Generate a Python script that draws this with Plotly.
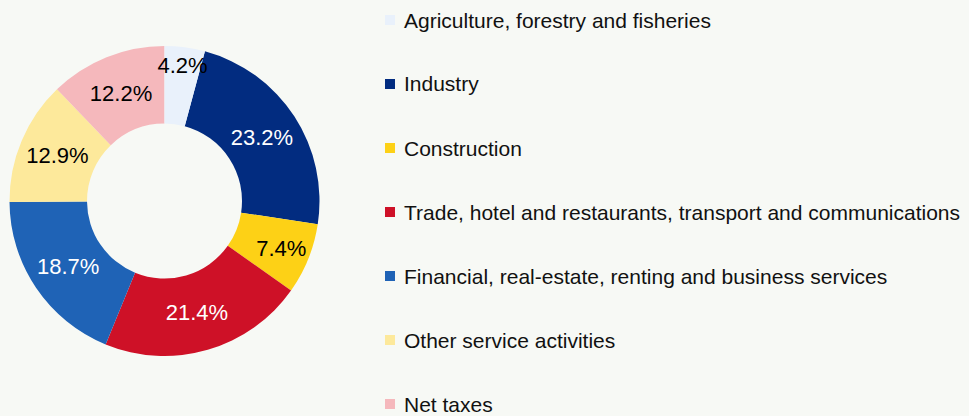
import plotly.graph_objects as go

sectors = [
    "Agriculture, forestry and fisheries",
    "Industry",
    "Construction",
    "Trade, hotel and restaurants, transport and communications",
    "Financial, real-estate, renting and business services",
    "Other service activities",
    "Net taxes",
]
shares = [4.2, 23.2, 7.4, 21.4, 18.7, 12.9, 12.2]
colors = ["#e9f1fb", "#022c80", "#fdd116", "#ce1127", "#1f63b6", "#fde99b", "#f5b8bc"]
label_colors = ["black", "white", "black", "white", "white", "black", "black"]

bg = "#f7f9f5"
W, H = 969, 416

# plotly draws slices in order; put the small first slice last so its label
# sits on top of the neighbours, and rotate so it still starts at 12 o'clock
order = list(range(1, len(sectors))) + [0]

fig = go.Figure()

fig.add_trace(go.Pie(
    labels=[sectors[i] for i in order],
    values=[shares[i] for i in order],
    sort=False,
    direction="clockwise",
    rotation=shares[0] / sum(shares) * 360,
    hole=0.5,
    marker=dict(colors=[colors[i] for i in order], line=dict(width=0)),
    texttemplate="%{value:.1f}%",
    textposition="inside",
    insidetextorientation="horizontal",
    textfont=dict(color=[label_colors[i] for i in order], size=22,
                  family="Liberation Sans, Arial"),
    showlegend=False,
    hoverinfo="label+percent",
    domain=dict(x=[9.5 / W, 319.5 / W], y=[60 / H, 370 / H]),
))

# legend drawn by hand: it runs past the bottom edge like the original
row_h = 64
for i, (name, c) in enumerate(zip(sectors, colors)):
    yc = 20 + i * row_h
    fig.add_shape(
        type="rect", xref="paper", yref="paper",
        x0=385 / W, x1=395 / W,
        y0=1 - (yc + 5) / H, y1=1 - (yc - 5) / H,
        fillcolor=c, line=dict(width=0),
    )
    fig.add_annotation(
        text=name, xref="paper", yref="paper",
        x=402 / W, y=1 - yc / H,
        xanchor="left", yanchor="middle",
        showarrow=False,
        font=dict(size=21, color="#111111"),
    )

fig.update_layout(
    width=W,
    height=H,
    margin=dict(l=0, r=0, t=0, b=0),
    paper_bgcolor=bg,
    font=dict(family="Liberation Sans, Arial", size=21, color="#111111"),
    uniformtext=dict(minsize=22, mode="show"),
)

fig.write_html("out.html", config={"displayModeBar": False},
               post_script="document.body.style.margin='0';")
